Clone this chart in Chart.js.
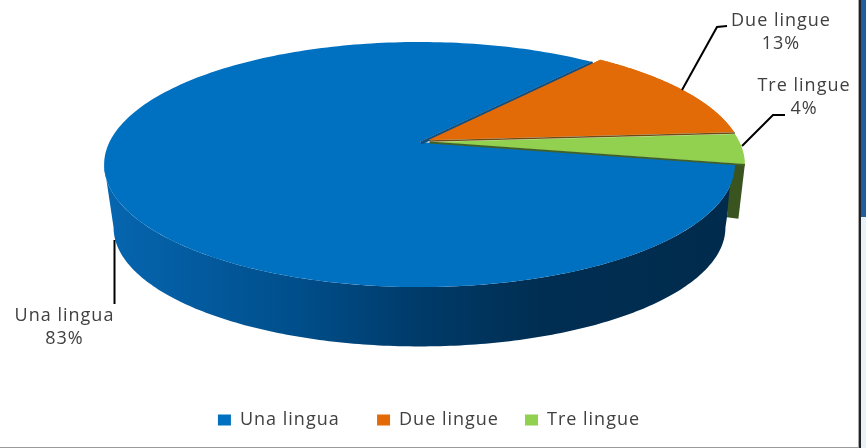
<!DOCTYPE html>
<html><head><meta charset="utf-8">
<style>
html,body{margin:0;padding:0;background:#fff;width:866px;height:448px;overflow:hidden}
#wrap{position:absolute;left:0;top:0;width:858px;height:448px}
.d{position:absolute}
</style>
<script src="https://cdn.jsdelivr.net/npm/chart.js@4"></script>
</head><body>
<div class="d" style="left:0;top:447px;width:858px;height:1px;background:#9a9a9a"></div>
<div class="d" style="left:858px;top:0;width:1px;height:448px;background:#a8a8a8"></div>
<div class="d" style="left:859px;top:0;width:2px;height:448px;background:#222"></div>
<div class="d" style="left:861px;top:0;width:5px;height:217px;background:#1f5f9e"></div>
<div class="d" style="left:861px;top:217px;width:5px;height:231px;background:#eaf0f7"></div>
<div id="wrap"><canvas id="c" width="858" height="448"></canvas></div>
<script>
const categories = ['Una lingua', 'Due lingue', 'Tre lingue'];
const values = [83, 13, 4];
const colors = ['#0070c0', '#e26b08', '#92d050'];
const startRotation = 100.5;

const FONT = '"Open Sans"';
const TEXT = '#404040';
// projection of the pie disc
const P = {x0: 419.5, y0: 142, a: 118.4, b: 0.184, c: 310, s: 0.97, cy: 165, cyBottom: 228};
function rim(t, dx, dy) {
  const u = Math.cos(t), v = Math.sin(t), w = 1 - P.b * v;
  return {x: P.x0 + P.c * u / w + (dx || 0), y: P.y0 + P.a * v / w + (dy || 0)};
}
function rimBottom(t) {
  const p = rim(t);
  return {x: P.x0 + (p.x - P.x0) * P.s, y: P.cyBottom + (p.y - P.cy) * P.s};
}
function wedge(ctx, el, dx, dy) {
  ctx.beginPath();
  ctx.moveTo(P.x0 + dx, P.y0 + dy);
  const n = 240;
  for (let i = 0; i <= n; i++) {
    const p = rim(el.startAngle + (el.endAngle - el.startAngle) * i / n, dx, dy);
    ctx.lineTo(p.x, p.y);
  }
  ctx.closePath();
}
const offsets = [[0, 0], [9, -2], [10, 0]];

const pie3d = {
  id: 'pie3d',
  beforeUpdate(chart) { chart.ctx.letterSpacing = '1px'; },
  beforeLayout(chart) { chart.ctx.letterSpacing = '1px'; },
  beforeDraw(chart) { chart.ctx.letterSpacing = '1px'; },
  beforeDatasetsDraw(chart) {
    const ctx = chart.ctx;
    const arcs = chart.getDatasetMeta(0).data;
    ctx.save();
    // outer wall of the big slice
    const g = ctx.createLinearGradient(105, 0, 730, 0);
    g.addColorStop(0, '#0666b0');
    g.addColorStop(0.3, '#004f8c');
    g.addColorStop(0.5, '#003b6a');
    g.addColorStop(0.7, '#002e52');
    g.addColorStop(1, '#002b4d');
    const a0 = Math.asin(P.b), a1 = Math.PI - Math.asin(P.b), n = 200;
    ctx.beginPath();
    for (let i = 0; i <= n; i++) {
      const p = rim(a0 + (a1 - a0) * i / n);
      i ? ctx.lineTo(p.x, p.y) : ctx.moveTo(p.x, p.y);
    }
    for (let i = n; i >= 0; i--) {
      const p = rimBottom(a0 + (a1 - a0) * i / n);
      ctx.lineTo(p.x, p.y);
    }
    ctx.closePath();
    ctx.fillStyle = g;
    ctx.fill();
    // cut wall of the small slice
    const e = rim(arcs[2].endAngle, offsets[2][0], offsets[2][1]);
    ctx.beginPath();
    ctx.moveTo(e.x - 13, e.y);
    ctx.lineTo(e.x, e.y);
    ctx.lineTo(e.x - 6.5, e.y + 54.5);
    ctx.lineTo(e.x - 18, e.y + 53);
    ctx.closePath();
    ctx.fillStyle = '#3a5420';
    ctx.fill();
    // top faces
    arcs.forEach((el, i) => {
      wedge(ctx, el, offsets[i][0], offsets[i][1]);
      ctx.fillStyle = colors[i];
      ctx.fill();
    });
    // dark seams between slices
    const seam = (ang, dx, dy, col, w) => {
      const p = rim(ang, dx, dy);
      ctx.beginPath();
      ctx.moveTo(P.x0 + dx, P.y0 + dy);
      ctx.lineTo(p.x, p.y);
      ctx.strokeStyle = col;
      ctx.lineWidth = w;
      ctx.stroke();
    };
    seam(arcs[0].endAngle, 1.5, 1, '#0f4f82', 3.5);
    wedge(ctx, arcs[1], offsets[1][0], offsets[1][1]);
    ctx.fillStyle = colors[1];
    ctx.fill();
    seam(arcs[2].startAngle, offsets[2][0], offsets[2][1] - 1, '#6d4c12', 1.6);
    seam(arcs[2].endAngle, offsets[2][0], offsets[2][1] + 0.5, '#40602a', 1.8);
    // leader lines
    const leaders = [
      [[114.5, 240], [114.5, 304]],
      [[682, 90], [717, 27], [727, 26]],
      [[742, 146], [773, 115], [785, 115]]
    ];
    ctx.strokeStyle = '#000';
    ctx.lineWidth = 2;
    leaders.forEach(pts => {
      ctx.beginPath();
      pts.forEach((p, i) => i ? ctx.lineTo(p[0], p[1]) : ctx.moveTo(p[0], p[1]));
      ctx.stroke();
    });
    // data labels
    const labelPos = [[64.5, 316], [781, 21], [804, 86]];
    ctx.fillStyle = TEXT;
    ctx.font = '18px ' + FONT;
    ctx.textAlign = 'center';
    ctx.textBaseline = 'middle';
    categories.forEach((c, i) => {
      ctx.fillText(c, labelPos[i][0], labelPos[i][1]);
      ctx.fillText(values[i] + '%', labelPos[i][0], labelPos[i][1] + 23);
    });
    ctx.restore();
    return false;
  }
};

new Chart(document.getElementById('c'), {
  type: 'pie',
  data: {labels: categories, datasets: [{data: values, backgroundColor: colors, borderWidth: 0}]},
  options: {
    responsive: false,
    animation: false,
    rotation: startRotation,
    layout: {padding: {bottom: 9}},
    plugins: {
      tooltip: {enabled: false},
      legend: {
        position: 'bottom',
        labels: {
          boxWidth: 13, boxHeight: 11, padding: 26, color: TEXT, font: {family: FONT, size: 18},
          generateLabels(chart) {
            return Chart.overrides.pie.plugins.legend.labels.generateLabels(chart).map((l, i) =>
              i === 0 ? Object.assign(l, {text: l.text + '\u00a0\u00a0'}) : l);
          }
        }
      }
    }
  },
  plugins: [pie3d]
});
</script>
</body></html>
